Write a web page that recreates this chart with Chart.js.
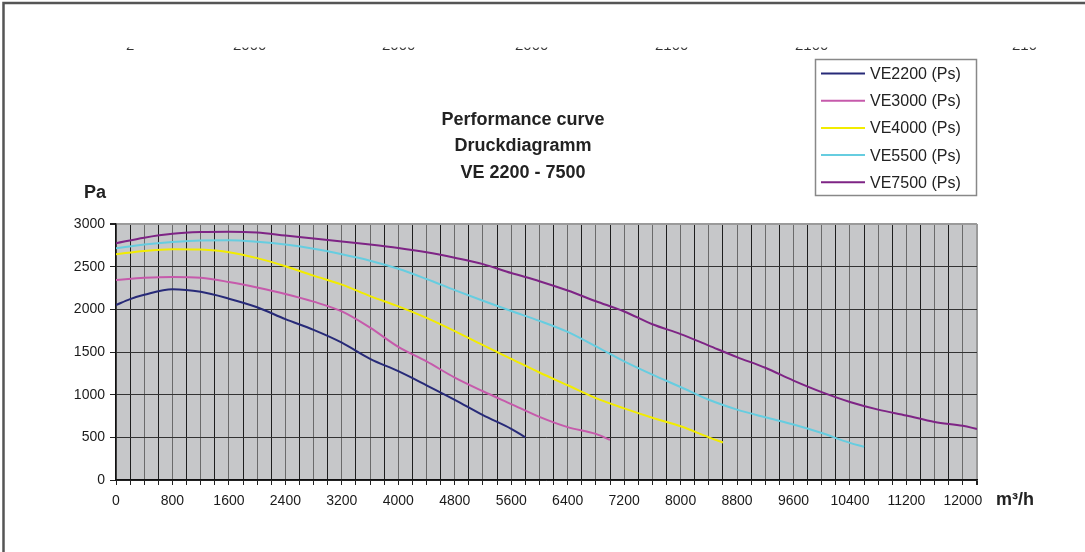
<!DOCTYPE html>
<html>
<head>
<meta charset="utf-8">
<script src="https://cdn.jsdelivr.net/npm/chart.js@4.4.1/dist/chart.umd.min.js"></script>
<style>
  html, body { margin: 0; padding: 0; background: #fff; }
  #wrap { width: 1085px; height: 552px; }
</style>
</head>
<body>
<div id="wrap"><canvas id="myChart" width="1085" height="552"></canvas></div>
<script>
// series names and colours
const seriesNames = ["VE2200 (Ps)", "VE3000 (Ps)", "VE4000 (Ps)", "VE5500 (Ps)", "VE7500 (Ps)"];
const seriesColors = ["#272a78", "#c65aab", "#f2ec00", "#66cde0", "#7e2485"];

// airflow in m³/h and pressure in Pa
const flow2200 = [0, 200, 400, 800, 1200, 1600, 2000, 2400, 2800, 3200, 3600, 4000, 4400, 4800, 5200, 5600, 5800];
const pa2200 = [2050, 2120, 2170, 2235, 2205, 2125, 2025, 1885, 1760, 1610, 1420, 1275, 1110, 940, 760, 600, 500];

const flow3000 = [0, 400, 800, 1200, 1600, 2000, 2400, 2800, 3200, 3600, 4000, 4400, 4800, 5200, 5600, 6000, 6400, 6800, 7000];
const pa3000 = [2345, 2370, 2380, 2370, 2320, 2255, 2180, 2090, 1975, 1785, 1560, 1390, 1200, 1040, 890, 740, 620, 540, 470];

const flow4000 = [0, 400, 800, 1200, 1600, 2000, 2400, 2800, 3200, 3600, 4000, 4400, 4800, 5200, 5600, 6000, 6400, 6800, 7200, 7600, 8000, 8400, 8600];
const pa4000 = [2645, 2685, 2705, 2700, 2670, 2600, 2505, 2395, 2290, 2155, 2035, 1900, 1745, 1580, 1420, 1260, 1110, 960, 840, 730, 630, 500, 440];

const flow5500 = [0, 400, 800, 1200, 1600, 2000, 2400, 2800, 3200, 3600, 4000, 4400, 4800, 5200, 5600, 6000, 6400, 6800, 7200, 7600, 8000, 8400, 8800, 9200, 9600, 10000, 10400, 10600];
const pa5500 = [2715, 2760, 2790, 2808, 2810, 2792, 2760, 2710, 2645, 2570, 2475, 2355, 2225, 2100, 1980, 1865, 1735, 1565, 1390, 1235, 1090, 940, 825, 735, 650, 550, 435, 390];

const flow7500 = [0, 400, 800, 1200, 1600, 2000, 2400, 2800, 3200, 3600, 4000, 4400, 4800, 5200, 5600, 6000, 6400, 6800, 7200, 7600, 8000, 8400, 8800, 9200, 9600, 10000, 10400, 10800, 11200, 11600, 12000, 12200];
const pa7500 = [2775, 2840, 2885, 2905, 2910, 2900, 2865, 2830, 2795, 2760, 2720, 2670, 2605, 2530, 2425, 2330, 2220, 2095, 1975, 1825, 1710, 1575, 1440, 1315, 1165, 1030, 915, 825, 755, 680, 635, 598];

const flows = [flow2200, flow3000, flow4000, flow5500, flow7500];
const pressures = [pa2200, pa3000, pa4000, pa5500, pa7500];

const titleLines = ["Performance curve", "Druckdiagramm", "VE 2200 - 7500"];
const yUnit = "Pa";
const xUnit = "m³/h";
// bits of a line of text cut off at the top of the scan
const cutText = ["2", "2000", "2000", "2000", "2100", "2100", "210"];

const datasets = seriesNames.map((name, i) => ({
  label: name,
  data: flows[i].map((f, k) => ({ x: f, y: pressures[i][k] })),
  borderColor: seriesColors[i],
  borderWidth: 2,
  pointRadius: 0,
  tension: 0.4,
  cubicInterpolationMode: "monotone",
}));

const decor = {
  id: "decor",
  beforeDraw(chart) {
    const c = chart.ctx;
    const a = chart.chartArea;
    c.save();
    c.fillStyle = "#fff";
    c.fillRect(0, 0, chart.width, chart.height);
    c.fillStyle = "#c6c7c9";
    c.fillRect(a.left, a.top, a.right - a.left, a.bottom - a.top);
    c.restore();
  },
  afterDraw(chart) {
    const c = chart.ctx;
    c.save();
    // scan frame
    c.strokeStyle = "#555";
    c.lineWidth = 2.5;
    c.beginPath();
    c.moveTo(1085, 3);
    c.lineTo(3.5, 3);
    c.lineTo(3.5, 552);
    c.stroke();

    // cut off text line
    c.save();
    c.beginPath();
    c.rect(0, 47.5, 1085, 2.5);
    c.clip();
    c.fillStyle = "#333";
    c.font = "15px 'Liberation Sans', Arial, sans-serif";
    c.textBaseline = "alphabetic";
    const cutX = [126, 233, 382, 515, 655, 795, 1012];
    cutText.forEach((t, i) => c.fillText(t, cutX[i], 49.8));
    c.restore();

    // title
    c.fillStyle = "#222";
    c.textAlign = "center";
    c.textBaseline = "middle";
    c.font = "bold 18px 'Liberation Sans', Arial, sans-serif";
    titleLines.forEach((t, i) => c.fillText(t, 523, 120 + i * 26.5));

    // axis units
    c.textAlign = "left";
    c.fillText(yUnit, 84, 193);
    c.fillText(xUnit, 996, 500);

    // legend
    c.strokeStyle = "#888";
    c.lineWidth = 1.5;
    c.strokeRect(815.5, 59.5, 161, 136);
    c.font = "16px 'Liberation Sans', Arial, sans-serif";
    chart.data.datasets.forEach((ds, i) => {
      const y = 73.5 + i * 27.2;
      c.strokeStyle = ds.borderColor;
      c.lineWidth = 2;
      c.beginPath();
      c.moveTo(821, y);
      c.lineTo(865, y);
      c.stroke();
      c.fillStyle = "#222";
      c.fillText(ds.label, 870, y + 1);
    });
    c.restore();
  },
};

new Chart(document.getElementById("myChart"), {
  type: "line",
  data: { datasets: datasets },
  options: {
    responsive: false,
    animation: false,
    layout: { padding: { left: 0, top: 224, right: 108, bottom: 0 } },
    plugins: { legend: { display: false }, title: { display: false }, tooltip: { enabled: false } },
    scales: {
      x: {
        type: "linear",
        min: 0,
        max: 12200,
        afterFit: (s) => { s.height = 72; },
        border: { color: "#111", width: 1.5 },
        grid: {
          color: (ctx) => ctx.tick.value === 12200 ? "#9a9a9a" : (ctx.index % 2 ? "#1e1e1e" : "#6a6a6a"),
          lineWidth: (ctx) => ctx.tick.value === 12200 ? 2 : 1,
          tickLength: 5,
          tickColor: "#222",
        },
        ticks: {
          stepSize: 200,
          autoSkip: false,
          maxRotation: 0,
          padding: 8,
          color: "#1a1a1a",
          font: { family: "'Liberation Sans', Arial, sans-serif", size: 14 },
          callback: (v) => (v % 800 === 0 && v <= 12000 ? String(v) : ""),
        },
      },
      y: {
        min: 0,
        max: 3000,
        afterFit: (s) => { s.width = 116; },
        border: { color: "#111", width: 1.5 },
        grid: {
          color: (ctx) => ctx.tick.value === 3000 ? "#9a9a9a" : "#333",
          lineWidth: (ctx) => ctx.tick.value === 3000 ? 2 : 1,
          tickLength: 6,
          tickColor: "#222",
        },
        ticks: {
          stepSize: 500,
          padding: 5,
          color: "#1a1a1a",
          font: { family: "'Liberation Sans', Arial, sans-serif", size: 14 },
          callback: (v) => String(v),
        },
      },
    },
  },
  plugins: [decor],
});
</script>
</body>
</html>
